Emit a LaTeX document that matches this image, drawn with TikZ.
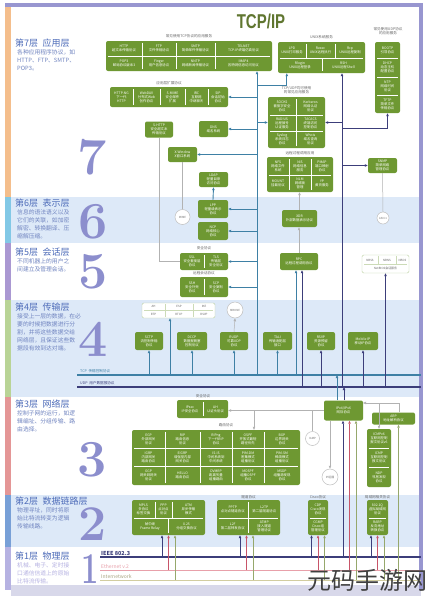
\documentclass[tikz,border=0pt]{standalone}
\usepackage{fontspec}
\newfontfamily\cjk{Noto Sans CJK SC}
\newfontfamily\heavy{Liberation Sans}
\usetikzlibrary{arrows.meta}
\definecolor{boxgreen}{RGB}{110,152,50}
\definecolor{tcpc}{RGB}{62,128,165}
\definecolor{udpc}{RGB}{60,62,122}
\definecolor{redc}{RGB}{200,85,105}
\definecolor{pinkc}{RGB}{232,160,170}
\definecolor{olc}{RGB}{150,168,108}
\definecolor{tanc}{RGB}{210,205,160}
\definecolor{framec}{RGB}{152,150,208}
\definecolor{bandc}{RGB}{221,233,248}
\definecolor{numc}{RGB}{140,142,205}
\definecolor{titlec}{RGB}{78,108,185}
\definecolor{descc}{RGB}{112,132,192}
\definecolor{headc}{RGB}{96,118,48}
\definecolor{stripa}{RGB}{244,190,140}
\definecolor{stripb}{RGB}{130,200,230}
\definecolor{stripc}{RGB}{170,152,210}
\definecolor{stripd}{RGB}{185,212,150}
\definecolor{stripe}{RGB}{228,150,150}
\definecolor{stripf}{RGB}{120,160,215}
\definecolor{stripg}{RGB}{182,178,226}
\definecolor{footc}{RGB}{216,216,234}

\begin{document}
\begin{tikzpicture}[x=1pt,y=-1pt,
	>={Triangle[length=3pt,width=2.4pt]},
	gbox/.style={fill=boxgreen, rounded corners=2pt, inner sep=0pt},
	gtxt/.style={text=white, font=\cjk\fontsize{3.4}{4.1}\selectfont, align=center, inner sep=0pt},
	cell/.style={draw=white, line width=0.35pt},
	wbox/.style={draw=boxgreen!45, fill=white, rounded corners=1.5pt, inner sep=0pt, line width=0.4pt},
	wcell/.style={draw=boxgreen!35, line width=0.3pt},
	wtxt/.style={text=black!60, font=\cjk\fontsize{2.9}{3.5}\selectfont, align=center, inner sep=0pt},
	circ/.style={circle, draw=black!25, fill=white, line width=0.5pt, inner sep=0pt, text=black!55, font=\cjk\fontsize{2.8}{3.4}\selectfont, align=center},
	lab/.style={text=black!60, font=\cjk\fontsize{3.6}{4.4}\selectfont, align=center, inner sep=0pt},
	ltitle/.style={anchor=west, inner sep=0pt, text=titlec, font=\cjk\fontsize{9}{10}\selectfont},
	ldesc/.style={anchor=north west, inner sep=0pt, text=descc, align=left, font=\cjk\fontsize{5.8}{8}\selectfont},
	bignum/.style={inner sep=0pt, text=numc, font=\fontsize{52}{52}\selectfont\bfseries},
	tl/.style={draw=tcpc, line width=0.9pt},
	nl/.style={draw=udpc, line width=0.9pt},
	rl/.style={draw=redc, line width=0.9pt},
	ol/.style={draw=olc, line width=0.9pt},
	gl/.style={draw=black!30, line width=0.5pt}]

\useasboundingbox (0,0) rectangle (430,600);
\fill[white] (0,0) rectangle (430,600);

% layer bands and frame
\fill[bandc] (11,197) rectangle (420,243);
\fill[bandc] (11,300) rectangle (420,397);
\fill[bandc] (11,495) rectangle (420,547);
\fill[footc] (11,585) rectangle (421,596);
\fill[stripa] (5,5) rectangle (11,197);
\fill[stripb] (5,197) rectangle (11,243);
\fill[stripc] (5,243) rectangle (11,300);
\fill[stripd] (5,300) rectangle (11,397);
\fill[stripe] (5,397) rectangle (11,495);
\fill[stripf] (5,495) rectangle (11,547);
\fill[stripg] (5,547) rectangle (11,590);
\fill[framec] (5,3) rectangle (423,7);
\fill[framec] (419,3) rectangle (423,590);

\node[text=headc, font=\heavy\bfseries\fontsize{20}{20}\selectfont] (head) at (261,21) {\scalebox{0.75}[1]{TCP/IP}};

% left column
\node[ltitle] (t7) at (15,43) {第7层\enspace 应用层};
\node[ldesc] (d7) at (17,49) {各种应用程序协议，如\\HTTP、FTP、SMTP、\\POP3。};
\node[ltitle] (t6) at (15,203) {第6层\enspace 表示层};
\node[ldesc] (d6) at (17,209) {信息的语法语义以及\\它们的关联，如加密\\解密、转换翻译、压\\缩解压缩。};
\node[ltitle] (t5) at (15,252) {第5层\enspace 会话层};
\node[ldesc] (d5) at (17,258) {不同机器上的用户之\\间建立及管理会话。};
\node[ltitle] (t4) at (15,307) {第4层\enspace 传输层};
\node[ldesc] (d4) at (17,313) {接受上一层的数据，在必\\要的时候把数据进行分\\割，并将这些数据交给\\网络层，且保证这些数\\据段有效到达对端。};
\node[ltitle] (t3) at (15,404) {第3层\enspace 网络层};
\node[ldesc] (d3) at (17,410) {控制子网的运行，如逻\\辑编址、分组传输、路\\由选择。};
\node[ltitle] (t2) at (15,501.5) {第2层\enspace 数据链路层};
\node[ldesc] (d2) at (17,507.5) {物理寻址，同时将原\\始比特流转变为逻辑\\传输线路。};
\node[ltitle] (t1) at (15,556) {第1层\enspace 物理层};
\node[ldesc, text=stripg] (d1) at (17,562) {机械、电子、定时接\\口通信信道上的原始\\比特流传输。};

\node[bignum] (n7) at (92,157) {7};
\node[bignum] (n6) at (93,222) {6};
\node[bignum] (n5) at (93,272) {5};
\node[bignum] (n4) at (93,339) {4};
\node[bignum] (n3) at (92,460) {3};
\node[bignum, font=\fontsize{50}{50}\selectfont\bfseries] (n2) at (93,524) {2};
\node[bignum, font=\fontsize{44}{44}\selectfont\bfseries] (n1) at (90,569.5) {\scalebox{0.7}[1]{1}};

% transport and link lines
\coordinate (tcpL) at (77,375); \coordinate (tcpR) at (421,375);
\coordinate (udpL) at (77,387); \coordinate (udpR) at (421,387);
\coordinate (e1L) at (100,557); \coordinate (e1R) at (421,557);
\coordinate (e2L) at (100,570); \coordinate (e2R) at (421,570);
\coordinate (e3L) at (100,580); \coordinate (e3R) at (421,580);
\draw[tl, line width=1.8pt] (tcpL) -- (tcpR);
\draw[nl, line width=1.8pt] (udpL) -- (udpR);
\node[lab, anchor=south west, text=tcpc] (tcplab) at (80,373.5) {TCP\enspace 传输控制协议};
\node[lab, anchor=south west, text=udpc] (udplab) at (80,385.5) {UDP\enspace 用户数据报协议};
\draw[nl, line width=1.6pt] (e1L) -- (e1R);
\draw[draw=pinkc, line width=1pt] (e2L) -- (e2R);
\draw[draw=tanc, line width=1pt] (e3L) -- (e3R);
\node[anchor=south west, inner sep=0pt, text=udpc, font=\cjk\bfseries\fontsize{5.5}{6}\selectfont] (ieee) at (101,555.5) {IEEE 802.3};
\node[anchor=south west, inner sep=0pt, text=pinkc, font=\cjk\fontsize{5}{6}\selectfont] (eth) at (101,568.5) {Ethernet v.2};
\node[anchor=south west, inner sep=0pt, text=tanc!80!black, font=\cjk\fontsize{5}{6}\selectfont] (inet) at (101,578.5) {Internetwork};

% layer 7
\node[lab] (labA) at (189,36) {常见使用TCP协议的应用服务};
\node[gbox, minimum width=166pt, minimum height=30pt] (A) at (189,56) {};
\draw[cell] (108,56) -- (270,56) (142,43) -- (142,69) (176,43) -- (176,69) (215,43) -- (215,69);
\foreach \x/\y/\t [count=\i] in {124/48.5/{HTTP\\超文本传输协议}, 159/48.5/{FTP\\文件传输协议},
	195.5/48.5/{SMTP\\简单邮件传输协议}, 243.5/48.5/{TELNET\\TCP-IP终端仿真协议},
	124/63.5/{POP3\\邮局协议版本3}, 159/63.5/{Finger\\用户信息协议},
	195.5/63.5/{NNTP\\网络新闻传输协议}, 243.5/63.5/{IMAP4\\因特网信息访问协议}}
	\node[gtxt] (A-\i) at (\x,\y) {\t};

\node[lab] (labB) at (321.5,37) {UNIX系统服务};
\node[gbox, minimum width=87pt, minimum height=31pt] (B) at (321.5,57.5) {};
\draw[cell] (280,58) -- (363,58) (306,44) -- (306,58) (335,44) -- (335,58) (322,58) -- (322,71);
\foreach \x/\y/\t [count=\i] in {292/50/{LPD\\UNIX打印服务}, 320.5/50/{Rexec\\UNIX远程执行},
	350/50/{Rcp\\UNIX远程复制}, 300/65.5/{Rlogin\\UNIX远程登录}, 343.5/65.5/{RSH\\UNIX远程Shell}}
	\node[gtxt] (B-\i) at (\x,\y) {\t};

\node[lab] (labC) at (388,31) {常见使用UDP协议\\的应用服务};
\node[gbox, minimum width=25pt, minimum height=71pt] (C) at (387.5,77.5) {};
\draw[cell] (377,58) -- (398,58) (377,77) -- (398,77) (377,95) -- (398,95);
\foreach \y/\t [count=\i] in {50/{BOOTP\\引导协议}, 67.5/{DHCP\\动态主机\\配置协议},
	86/{NTP\\网络时间\\协议}, 104/{TFTP\\简单文件\\传输协议}}
	\node[gtxt] (C-\i) at (387.5,\y) {\t};

\node[lab] (labD) at (169,83) {应用层扩展协议};
\node[gbox, minimum width=118pt, minimum height=20pt] (D) at (169,97) {};
\draw[cell] (133,89) -- (133,105) (160,89) -- (160,105) (185,89) -- (185,105) (208,89) -- (208,105);
\foreach \x/\t [count=\i] in {121.5/{HTTP-NG\\下一代\\HTTP}, 146.5/{WebDAV\\分布式Web\\创作协议},
	172.5/{S-MIME\\安全邮件\\扩展}, 196.5/{IRC\\互联网\\中继聊天}, 218/{SIP\\会话初始\\协议}}
	\node[gtxt] (D-\i) at (\x,97) {\t};

\node[gbox, minimum width=28pt, minimum height=16pt] (E) at (159,129.5) {};
\node[gtxt] (E-1) at (E) {S-HTTP\\安全超文本\\传输协议};
\node[gbox, minimum width=29pt, minimum height=16pt] (E2) at (213.5,129) {};
\node[gtxt] (E2-1) at (E2) {DNS\\域名系统};
\node[gbox, minimum width=29pt, minimum height=15pt] (F) at (182.5,154.5) {};
\node[gtxt] (F-1) at (F) {X-Window\\X窗口系统};
\node[gbox, minimum width=29pt, minimum height=15pt] (G) at (213.5,179.5) {};
\node[gtxt] (G-1) at (G) {LDAP\\轻量目录\\访问协议};

\node[lab] (labH) at (296.5,90) {TCP/UDP均可使用\\的常见应用服务};
\node[gbox, minimum width=57pt, minimum height=51pt] (H) at (296.5,122.5) {};
\draw[cell] (296.5,99) -- (296.5,146) (270,115) -- (323,115) (270,131) -- (323,131);
\foreach \x/\y/\t [count=\i] in {282/106/{SOCKS\\套接字安全\\协议}, 310.5/106/{Kerberos\\网络认证\\协议},
	282/123/{RADIUS\\远程拨号\\认证服务}, 310.5/123/{TACACS\\终端访问\\控制协议},
	282/139.5/{Syslog\\系统日志\\协议}, 310.5/139.5/{Whois\\域名查询\\协议}}
	\node[gtxt] (H-\i) at (\x,\y) {\t};

\node[lab] (labI) at (300,153) {远程过程调用应用};
\node[gbox, minimum width=66pt, minimum height=35pt] (I) at (300,174.5) {};
\draw[cell] (269,175) -- (331,175) (289,159) -- (289,190) (311,159) -- (311,190);
\foreach \x/\y/\t [count=\i] in {278/166/{NFS\\网络文件\\系统}, 300/166/{NIS\\网络信息\\服务}, 322/166/{PMAP\\端口映射\\协议},
	278/183.5/{MOUNT\\挂载协议}, 300/183.5/{NLM\\网络锁\\管理}, 322/183.5/{YP\\黄页服务}}
	\node[gtxt] (I-\i) at (\x,\y) {\t};

\node[gbox, minimum width=29pt, minimum height=15pt] (J) at (382.5,165.5) {};
\node[gtxt] (J-1) at (J) {SNMP\\简单网络\\管理协议};

% layer 6
\node[gbox, minimum width=30pt, minimum height=18pt] (G2) at (213,209) {};
\node[gtxt] (G2-1) at (G2) {LPP\\轻量级表示\\协议};
\node[gbox, minimum width=30pt, minimum height=18pt] (G3) at (213,231) {};
\node[gtxt] (G3-1) at (G3) {NCP\\网络核心\\协议};
\node[circ, minimum size=15pt] (F2) at (182.5,217) {MIME};
\node[circ, minimum size=12pt] (J2) at (383,218) {ASN.1};
\node[gbox, minimum width=35pt, minimum height=17pt] (K) at (299.5,218.5) {};
\node[gtxt] (K-1) at (K) {XDR\\外部数据表示协议};

% layer 5
\node[lab] (labL5a) at (204,248) {安全协议};
\node[gbox, minimum width=48pt, minimum height=17pt] (L5a) at (204,261.5) {};
\draw[cell] (204,255) -- (204,268);
\node[gtxt] (L5a-1) at (192,261.5) {SSL\\安全套接层\\协议};
\node[gtxt] (L5a-2) at (216,261.5) {TLS\\传输层\\安全协议};
\node[lab] (labL5b) at (204,273) {远程会话协议};
\node[gbox, minimum width=48pt, minimum height=20pt] (L5b) at (204,287) {};
\draw[cell] (204,279) -- (204,295);
\node[gtxt] (L5b-1) at (192,287) {SSH\\安全外壳\\协议};
\node[gtxt] (L5b-2) at (216,287) {SCP\\安全复制\\协议};
\node[gbox, minimum width=38pt, minimum height=17pt] (L) at (299,261.5) {};
\node[gtxt] (L-1) at (L) {RPC\\远程过程调用协议};
\node[wbox, minimum width=47pt, minimum height=18pt] (M) at (385.5,264) {};
\draw[wcell] (364,264) -- (407,264) (378,256) -- (378,264) (396,256) -- (396,264);
\foreach \x/\t [count=\i] in {370/NBSS, 387/NBNS, 402.5/NBDS}
	\node[wtxt] (M-\i) at (\x,260) {\t};
\node[wtxt] (M-4) at (385.5,268.5) {NetBIOS会话服务};

% layer 4
\node[wbox, minimum width=73pt, minimum height=15pt] (W) at (178.5,310.5) {};
\draw[wcell] (144,310.5) -- (213,310.5) (165,304) -- (165,317) (193,304) -- (193,317);
\foreach \x/\y/\t [count=\i] in {153.5/306.8/AH, 179/306.8/ESP, 204/306.8/IKE,
	153.5/314.3/RTP, 179/314.3/RTCP, 204/314.3/RSVP}
	\node[wtxt] (W-\i) at (\x,\y) {\t};
\node[circ, minimum size=16pt] (C4) at (235,310) {MBONE};
\foreach \n/\x/\w/\t in {b1/149/28/{SCTP\\流控制传输\\协议}, b2/192/30/{DCCP\\数据报拥塞\\控制协议},
	b3/234/28/{RUDP\\可靠UDP\\协议}, b4/277.5/29/{TALI\\传输适配层\\接口},
	b5/321/28/{RSVP\\资源预留\\协议}, b6/363/30/{Mobile IP\\移动IP协议}}
{
	\node[gbox, minimum width=\w pt, minimum height=18pt] (\n) at (\x,341) {};
	\node[gtxt] (\n-1) at (\n) {\t};
}

% layer 3
\node[lab] (labN) at (203,396) {安全协议};
\node[gbox, minimum width=51pt, minimum height=18pt] (N) at (202.5,409) {};
\draw[cell] (203,402) -- (203,416);
\node[gtxt] (N-1) at (190,409) {IPsec\\IP安全协议};
\node[gtxt] (N-2) at (215.5,409) {AH\\认证头协议};
\node[lab] (labO) at (226,425.5) {路由协议};
\node[gbox, minimum width=168pt, minimum height=55pt] (O) at (216,457.5) {};
\draw[cell] (134,448) -- (298,448) (134,466) -- (298,466)
	(165,432) -- (165,483) (200,432) -- (200,483) (232,432) -- (232,483) (264,432) -- (264,483);
\foreach \x/\y/\t [count=\i] in {148.5/439/{EGP\\外部网关\\协议}, 182.5/439/{RIP\\路由信息\\协议},
	216/439/{RIPng\\下一代RIP\\协议}, 248/439/{OSPF\\开放式最短\\路径优先}, 282/439/{BGP\\边界网关\\协议},
	148.5/457/{IGRP\\内部网关\\路由协议}, 182.5/457/{EIGRP\\增强型内部\\网关协议},
	216/457/{IS-IS\\中间系统到\\中间系统}, 248/457/{PIM-DM\\密集模式\\组播协议}, 282/457/{PIM-SM\\稀疏模式\\组播协议},
	148.5/475.5/{GGP\\网关到网关\\协议}, 182.5/475.5/{HELLO\\路由协议},
	216/475.5/{DVMRP\\距离矢量\\组播路由}, 248/475.5/{MOSPF\\组播OSPF\\协议}, 282/475.5/{MSDP\\组播源发现\\协议}}
	\node[gtxt] (O-\i) at (\x,\y) {\t};
\node[gbox, minimum width=39pt, minimum height=20pt] (P) at (343.5,410.5) {};
\node[gtxt] (P-1) at (P) {IPv4/IPv6\\网际协议};
\node[circ, minimum size=14pt] (S) at (312.5,438.5) {IGMP};
\node[circ, minimum size=16pt] (T) at (330,477) {IP组播};
\node[gbox, minimum width=43pt, minimum height=12pt] (Q) at (393.5,418.5) {};
\node[gtxt] (Q-1) at (Q) {ARP\\地址解析协议};
\node[gbox, minimum width=24pt, minimum height=58pt] (R) at (379,458) {};
\draw[cell] (369,448) -- (389,448) (369,467) -- (389,467);
\foreach \y/\t [count=\i] in {438.5/{ICMPv6\\互联网控制\\报文协议v6}, 457.5/{ICMP\\互联网控制\\报文协议},
	477/{NDP\\邻居发现\\协议}}
	\node[gtxt] (R-\i) at (379,\y) {\t};

% layer 2
\node[gbox, minimum width=73pt, minimum height=35pt] (L2a) at (168.5,517.5) {};
\draw[cell] (134,518) -- (203,518) (155,502) -- (155,518) (172,502) -- (172,518) (168,518) -- (168,533);
\foreach \x/\y/\t [count=\i] in {143.5/509/{MPLS\\多协议\\标签交换}, 163.5/509/{PPP\\点对点\\协议},
	188.5/509/{ATM\\异步传输\\模式}, 150/526.5/{帧中继\\Frame Relay}, 186.5/526.5/{X.25\\分组交换协议}}
	\node[gtxt] (L2a-\i) at (\x,\y) {\t};
\node[lab] (labL2b) at (248.5,497) {隧道协议};
\node[gbox, minimum width=63pt, minimum height=35pt] (L2b) at (248.5,517.5) {};
\draw[cell] (219,518) -- (278,518) (248.5,502) -- (248.5,533);
\foreach \x/\y/\t [count=\i] in {232.75/509/{PPTP\\点对点隧道协议}, 264.25/509/{L2TP\\第二层隧道协议},
	232.75/526.5/{L2F\\第二层转发协议}, 264.25/526.5/{ATMP\\接入隧道\\管理协议}}
	\node[gtxt] (L2b-\i) at (\x,\y) {\t};
\node[lab] (labL2c) at (318,497) {Cisco协议};
\node[gbox, minimum width=20pt, minimum height=35pt] (L2c) at (318,517.5) {};
\draw[cell] (310,518) -- (326,518);
\node[gtxt] (L2c-1) at (318,509) {CDP\\Cisco发现\\协议};
\node[gtxt] (L2c-2) at (318,526.5) {CGMP\\Cisco组\\管理协议};
\node[lab] (labL2d) at (377.5,497) {局域网相关协议};
\node[gbox, minimum width=21pt, minimum height=35pt] (L2d) at (377.5,517.5) {};
\draw[cell] (369,518) -- (386,518);
\node[gtxt] (L2d-1) at (377.5,509) {802.1Q\\虚拟局域网\\协议};
\node[gtxt] (L2d-2) at (377.5,526.5) {RARP\\反向地址\\转换协议};

% trunk lines of layers 7 to 5
\coordinate (ta) at (257,375);
\coordinate (tb) at (257,85);
\coordinate (ua) at (342,387);
\coordinate (uc) at (342,128);
\draw[tl,->] (ta) -- (ta |- A.south);
\draw[tl,->] (tb) -| ([xshift=9pt]B.south west);
\foreach \n in {D,E2,F,G2,G3,L5a,L5b}
	\draw[tl,->] (ta |- \n.east) -- (\n.east);
\draw[tl,->] (ta |- H.west) -- (H.west);
\draw[tl,->] (G2.north) -- (G.south);
\draw[nl,->] (ua) -- (ua |- B.south);
\draw[nl,->] (ua |- H.east) -- (H.east);
\draw[nl,->] (uc) -| (C.south);
\draw[nl,->] (ua |- J.west) -- (J.west);
\draw[gl] (E.south) |- (L5a.west);
\draw[gl] (F.south) -- (F2.north);
\draw[gl] (J.south) -- (J2.north);
\draw[gl,->] (K.north) -- (K.north |- I.south);
\draw[gl,->] (L.north) -- (L.north |- K.south);
\coordinate (l1) at (296,375);
\coordinate (l2) at (302,387);
\coordinate (m1) at (385.5,387);
\draw[tl,->] (l1) -- (l1 |- L.south);
\draw[nl,->] (l2) -- (l2 |- L.south);
\draw[nl,->] (m1) -- (M.south);

% layer 4 arrows
\coordinate (w1) at (170,375);
\draw[tl,->] (w1) -- (w1 |- W.south);
\foreach \n in {b1,b2,b3,b4}
	\draw[tl,->] (\n.south |- ta) -- (\n.south);
\foreach \n in {b5,b6}
	\draw[nl,->] (\n.south |- ua) -- (\n.south);
\draw[gl,->] (b3.north) -- (C4.south);

% layer 3 arrows
\coordinate (p1) at (337,375);
\coordinate (p2) at (344,387);
\draw[tl,->] (p1 |- P.north) -- (p1);
\draw[nl,->] (p2 |- P.north) -- (p2);
\coordinate (ob) at (254,410.5);
\coordinate (pq) at (363,403);
\draw[gl,->] (P.west) -- (P.west -| N.east);
\draw[gl,->] (ob) -- (ob |- O.north);
\draw[gl] (S.north) |- (P.west);
\draw[gl,->] (T |- P.south) -- (T.north);
\draw[gl,->] ([xshift=6pt]Q.north) |- (pq);
\draw[gl,->] (R.north |- pq) -- (R.north);

% link lines up to the boxes
\foreach \x/\n in {162/L2a, 240/L2b, 311.5/L2c, 371/L2d, 343/P}
{
	\coordinate (va) at (\x,557);
	\coordinate (vb) at (\x+6.5,570);
	\coordinate (vc) at (\x+13,580);
	\draw[nl,->] (va) -- (va |- \n.south);
	\draw[rl,->] (vb) -- (vb |- \n.south);
	\draw[ol,->] (vc) -- (vc |- \n.south);
}
\coordinate (qv) at (398.5,580);
\draw[ol,->] (qv) -- (qv |- Q.south);

\node[text=black!75, font=\cjk\fontsize{24}{24}\selectfont, inner sep=0pt] (mark) at (367,580) {元码手游网};
\end{tikzpicture}
\end{document}
